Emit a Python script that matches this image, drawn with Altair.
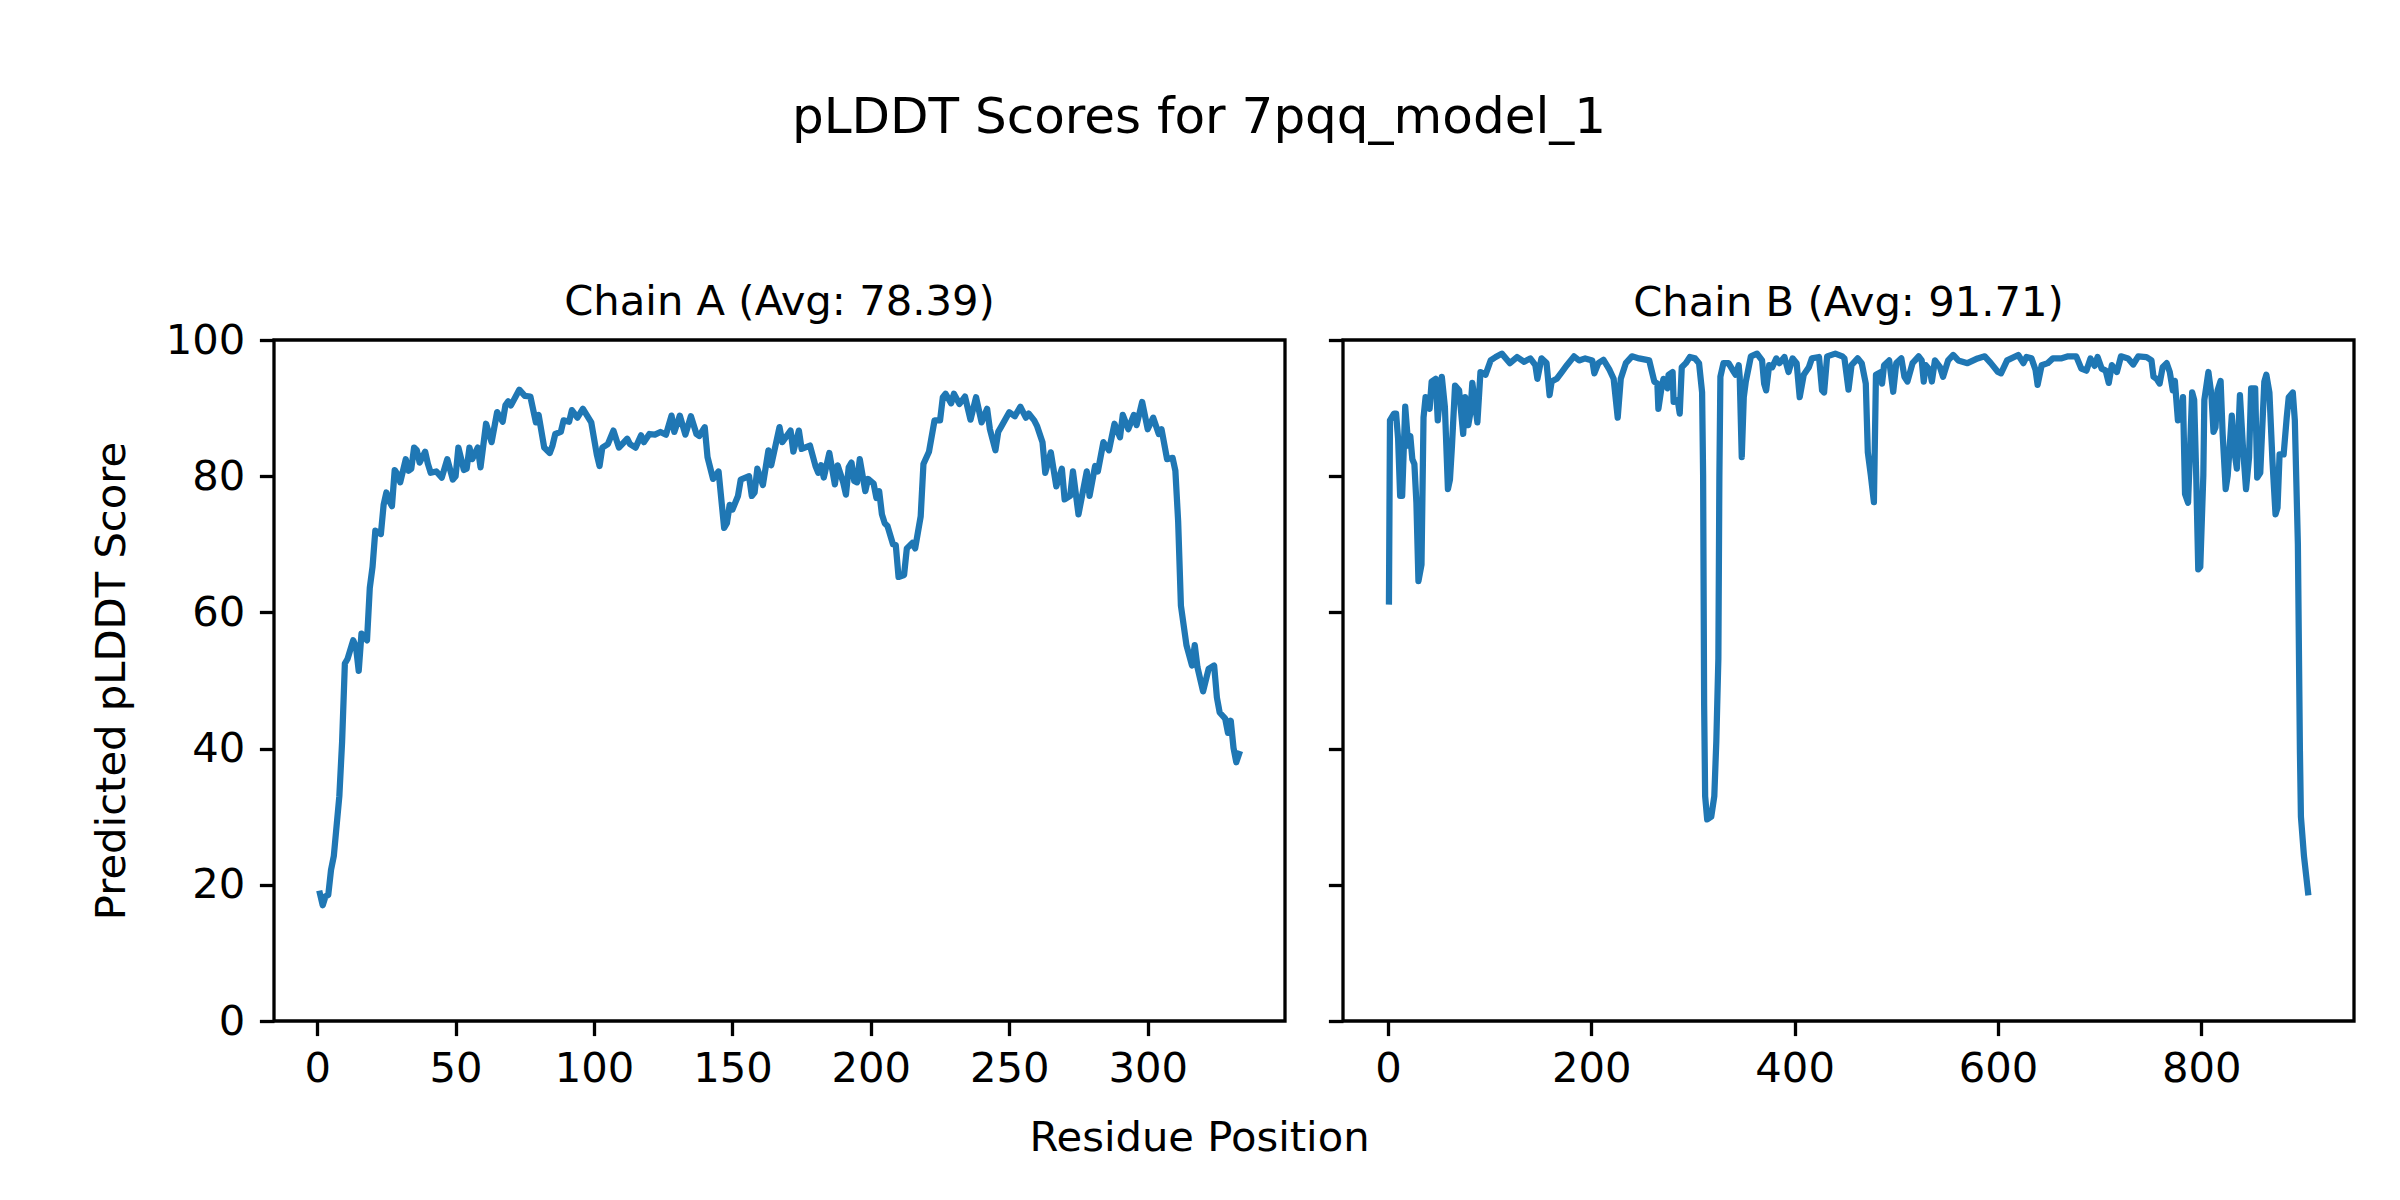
import altair as alt
import pandas as pd

# ---------------- data ----------------
main_title = "pLDDT Scores for 7pqq_model_1"
chain_titles = ["Chain A (Avg: 78.39)", "Chain B (Avg: 91.71)"]
x_title = "Residue Position"
y_title = "Predicted pLDDT Score"

a_ticks = [0, 50, 100, 150, 200, 250, 300]
b_ticks = [0, 200, 400, 600, 800]
y_ticks = [0, 20, 40, 60, 80, 100]

a_pos = [1, 2, 3, 4, 5, 6, 8, 9, 10, 11, 13, 14, 15, 16, 18, 19, 20, 21, 23, 24,
         25, 26, 27, 28, 29, 30, 32, 33, 34, 35, 36, 37, 39, 40, 41, 43, 45, 47, 49, 50,
         51, 53, 54, 55, 56, 58, 59, 61, 63, 65, 67, 68, 69, 70, 73, 75, 77, 79, 80, 82,
         84, 85, 86, 88, 89, 91, 92, 94, 96, 99, 101, 102, 103, 105, 107, 109, 112, 113, 115, 117,
         118, 120, 122, 124, 126, 128, 129, 131, 133, 135, 137, 138, 140, 141, 143, 145, 147, 148, 149, 150,
         152, 153, 156, 157, 158, 159, 161, 163, 164, 167, 168, 171, 172, 174, 175, 178, 180, 181, 182, 183,
         185, 187, 188, 190, 191, 192, 193, 194, 195, 196, 198, 199, 201, 202, 203, 204, 205, 206, 208, 209,
         210, 212, 213, 215, 216, 218, 219, 221, 223, 225, 226, 227, 229, 230, 232, 234, 236, 238, 240, 242,
         243, 245, 246, 247, 250, 252, 254, 256, 257, 259, 260, 262, 263, 265, 267, 269, 270, 272, 273, 275,
         278, 279, 281, 282, 284, 286, 288, 290, 291, 293, 295, 296, 298, 300, 302, 304, 305, 307, 309, 310,
         311, 312, 314, 316, 317, 318, 320, 322, 324, 325, 326, 328, 329, 330, 331, 332, 333]
a_val = [18.7, 17.0, 18.3, 18.5, 22.2, 24.2, 33.0, 41.0, 52.5, 53.2, 55.9, 55.0, 51.4, 56.9, 55.9, 63.6, 66.7, 72.0, 71.5, 75.8,
         77.6, 76.4, 75.6, 80.9, 80.3, 79.1, 82.5, 80.8, 81.1, 84.2, 83.8, 82.0, 83.6, 81.8, 80.5, 80.7, 79.8, 82.5, 79.5, 80.0,
         84.2, 80.9, 81.1, 84.2, 82.5, 84.2, 81.3, 87.7, 85.0, 89.4, 88.0, 90.4, 91.0, 90.4, 92.7, 91.8, 91.7, 87.9, 89.0, 84.2,
         83.4, 84.5, 86.2, 86.5, 88.2, 88.0, 89.7, 88.6, 89.9, 87.9, 83.2, 81.5, 84.2, 84.7, 86.7, 84.2, 85.5, 84.7, 84.2, 86.0,
         85.0, 86.2, 86.1, 86.5, 86.1, 88.9, 86.5, 88.9, 86.1, 88.8, 86.2, 85.9, 87.2, 82.8, 79.6, 80.7, 72.4, 73.1, 75.8, 75.1,
         77.1, 79.5, 80.0, 77.1, 77.6, 81.1, 78.7, 83.8, 81.6, 87.2, 85.0, 86.7, 83.6, 86.7, 84.0, 84.5, 81.5, 80.5, 81.6, 79.8,
         83.4, 78.8, 81.6, 79.1, 77.3, 81.3, 82.0, 79.3, 79.1, 82.5, 77.8, 79.6, 78.9, 76.8, 77.8, 74.4, 73.1, 72.7, 70.0, 69.9,
         65.2, 65.5, 69.4, 70.2, 69.4, 74.1, 81.8, 83.6, 88.2, 88.2, 91.6, 92.1, 90.7, 92.1, 90.6, 91.7, 88.3, 91.6, 87.9, 89.9,
         86.9, 83.8, 86.5, 87.2, 89.4, 88.8, 90.2, 88.6, 89.2, 88.2, 87.4, 85.0, 80.5, 83.5, 78.5, 81.1, 76.6, 77.1, 80.7, 74.4,
         80.7, 77.1, 81.5, 80.7, 85.0, 83.8, 87.7, 85.7, 89.0, 86.9, 89.0, 87.5, 90.9, 86.9, 88.6, 86.2, 86.9, 82.5, 82.7, 80.8,
         73.4, 61.0, 55.2, 52.2, 55.2, 51.9, 48.4, 51.7, 52.2, 47.5, 45.3, 44.4, 42.3, 44.1, 40.1, 38.0, 39.2]

b_pos = [1, 2, 6, 8, 10, 12, 14, 17, 20, 22, 24, 26, 28, 30, 33, 35, 37, 41, 43, 47,
         49, 53, 56, 59, 61, 63, 66, 70, 74, 76, 79, 81, 83, 88, 91, 96, 101, 106, 112, 120,
         127, 134, 140, 145, 147, 151, 156, 159, 161, 166, 171, 176, 183, 188, 194, 201, 203, 207, 212, 218,
         222, 226, 229, 234, 240, 247, 257, 262, 265, 266, 269, 271, 275, 276, 280, 281, 285, 287, 289, 293,
         297, 302, 306, 309, 310, 311, 312, 314, 318, 321, 323, 325, 326, 327, 330, 335, 339, 342, 345, 346,
         348, 350, 352, 357, 363, 368, 370, 372, 375, 378, 382, 385, 390, 394, 398, 402, 405, 409, 414, 417,
         424, 427, 429, 432, 440, 447, 449, 453, 456, 462, 466, 470, 472, 475, 478, 480, 485, 486, 488, 493,
         497, 500, 505, 508, 511, 516, 522, 525, 527, 529, 533, 535, 538, 543, 546, 551, 556, 561, 570, 580,
         587, 593, 600, 603, 609, 620, 625, 628, 633, 637, 639, 643, 649, 654, 662, 669, 677, 682, 687, 691,
         695, 698, 702, 706, 709, 712, 717, 721, 728, 733, 738, 746, 751, 753, 756, 759, 762, 766, 769, 772,
         774, 777, 780, 782, 784, 787, 791, 793, 795, 797, 799, 802, 803, 807, 810, 812, 814, 816, 819, 821,
         824, 826, 830, 832, 835, 838, 841, 844, 847, 849, 853, 855, 858, 862, 864, 867, 870, 873, 875, 877,
         881, 884, 886, 890, 892, 895, 897, 898, 901, 905]
b_val = [61.6, 88.2, 89.2, 89.2, 85.5, 77.1, 77.1, 90.2, 84.5, 85.9, 82.5, 81.8, 76.1, 64.6, 67.0, 88.6, 91.6, 89.9, 93.9, 94.3,
         88.2, 94.6, 90.2, 78.1, 79.5, 84.5, 93.3, 92.6, 86.2, 91.6, 87.5, 89.2, 93.7, 87.9, 95.3, 94.9, 97.0, 97.5, 98.0, 96.6,
         97.5, 96.8, 97.3, 96.3, 94.3, 97.3, 96.6, 91.9, 93.9, 94.3, 95.3, 96.3, 97.6, 97.0, 97.3, 97.0, 95.1, 96.6, 97.1, 95.6,
         94.3, 88.6, 94.3, 96.6, 97.6, 97.3, 97.0, 93.9, 93.6, 89.9, 92.9, 94.3, 92.9, 94.9, 95.3, 90.9, 91.2, 89.2, 96.0, 96.6,
         97.5, 97.3, 96.6, 92.3, 80.1, 46.5, 33.0, 29.6, 30.0, 33.0, 41.1, 53.2, 80.1, 94.6, 96.6, 96.6, 95.6, 94.9, 96.3, 94.6,
         82.8, 91.6, 93.9, 97.6, 98.0, 97.0, 93.6, 92.6, 96.3, 96.0, 97.3, 96.6, 97.5, 95.3, 97.3, 96.6, 91.6, 94.9, 96.0, 97.3,
         97.5, 92.6, 92.3, 97.6, 98.0, 97.6, 97.3, 92.7, 96.3, 97.3, 96.6, 93.6, 83.5, 80.1, 76.2, 94.9, 95.3, 93.6, 96.3, 97.0,
         92.4, 96.6, 97.3, 94.6, 93.9, 96.6, 97.6, 97.0, 93.9, 96.3, 95.6, 93.9, 97.0, 96.0, 94.6, 97.0, 97.8, 97.0, 96.6, 97.3,
         97.6, 96.6, 95.3, 95.1, 97.0, 97.8, 96.6, 97.5, 97.3, 95.6, 93.4, 96.3, 96.6, 97.3, 97.3, 97.6, 97.6, 95.8, 95.5, 97.3,
         96.2, 97.5, 95.8, 95.5, 93.7, 96.3, 95.3, 97.6, 97.3, 96.4, 97.6, 97.5, 97.0, 94.6, 94.3, 93.6, 96.0, 96.6, 95.3, 92.6,
         94.0, 88.2, 88.6, 91.6, 77.4, 76.1, 92.3, 91.2, 80.1, 66.3, 66.7, 80.1, 91.2, 95.3, 91.9, 86.5, 87.2, 92.6, 94.0, 86.2,
         78.1, 80.1, 88.9, 84.2, 81.1, 91.9, 84.2, 78.1, 82.8, 92.9, 92.9, 79.8, 80.5, 93.9, 94.9, 92.3, 82.2, 74.4, 75.4, 83.2,
         83.2, 88.6, 91.6, 92.3, 88.2, 70.0, 39.7, 30.0, 24.2, 18.9]

df_a = pd.DataFrame({"pos": a_pos, "score": a_val})
df_b = pd.DataFrame({"pos": b_pos, "score": b_val})

# ---------------- styling ----------------
FONT = "DejaVu Sans"
FS = 41.7          # 10 pt at 300 dpi
FS_MAIN = 50.0     # 12 pt at 300 dpi
W, H = 1011, 681
TICK = 14.6
TICKW = 3.3
LINE_COLOR = "#1f77b4"


def axis_common(**kw):
    base = dict(
        grid=False, domain=False, ticks=True, tickSize=TICK, tickWidth=TICKW,
        tickColor="black", labelFont=FONT, labelFontSize=FS, labelColor="black",
        labelPadding=TICK, labelFlush=False, labelOverlap=False,
        titleFont=FONT, titleFontSize=FS, titleFontWeight="normal", titleColor="black",
    )
    base.update(kw)
    return alt.Axis(**base)


def panel(df, domain, ticks, title, first, title_dy):
    if first:
        x_axis = axis_common(values=ticks, format="d", title=x_title, labelPadding=12.6,
                             titleX=925, titleY=116, titleAlign="center",
                             titleBaseline="middle", titleAnchor="start")
        y_axis = axis_common(values=y_ticks, format="d", title=y_title,
                             titleX=-163, titleY=H / 2, titleAlign="center",
                             titleBaseline="middle", titleAngle=270)
    else:
        x_axis = axis_common(values=ticks, format="d", title=None, labelPadding=12.6)
        y_axis = axis_common(values=y_ticks, labels=False, title=None)
    return (
        alt.Chart(df)
        .mark_line(color=LINE_COLOR, strokeWidth=6.25, strokeJoin="round", strokeCap="square")
        .encode(
            x=alt.X("pos:Q", scale=alt.Scale(domain=domain, nice=False, zero=False), axis=x_axis),
            y=alt.Y("score:Q", scale=alt.Scale(domain=[0, 100], nice=False, zero=False), axis=y_axis),
        )
        .properties(
            width=W, height=H,
            title=alt.TitleParams(text=title, font=FONT, fontSize=FS, fontWeight="normal",
                                  color="black", anchor="middle", frame="group",
                                  baseline="alphabetic", offset=25, dy=title_dy),
        )
    )


na, nb = a_pos[-1], b_pos[-1]
dom_a = [1 - 0.05 * (na - 1), na + 0.05 * (na - 1)]
dom_b = [1 - 0.05 * (nb - 1), nb + 0.05 * (nb - 1)]

chart = (
    alt.hconcat(
        panel(df_a, dom_a, a_ticks, chain_titles[0], True, 62),
        panel(df_b, dom_b, b_ticks, chain_titles[1], False, 44),
        spacing=58,
        bounds="flush",
    )
    .properties(
        title=alt.TitleParams(text=main_title, font=FONT, fontSize=FS_MAIN, fontWeight="normal",
                              color="black", anchor="middle", frame="group",
                              baseline="alphabetic", offset=146, dx=925, dy=48),
        padding={"left": 81, "top": 84, "right": 20, "bottom": 20},
        background="white",
    )
    .configure_view(stroke="black", strokeWidth=TICKW)
)

chart.save("out.html", embed_options={"renderer": "svg", "actions": False})
